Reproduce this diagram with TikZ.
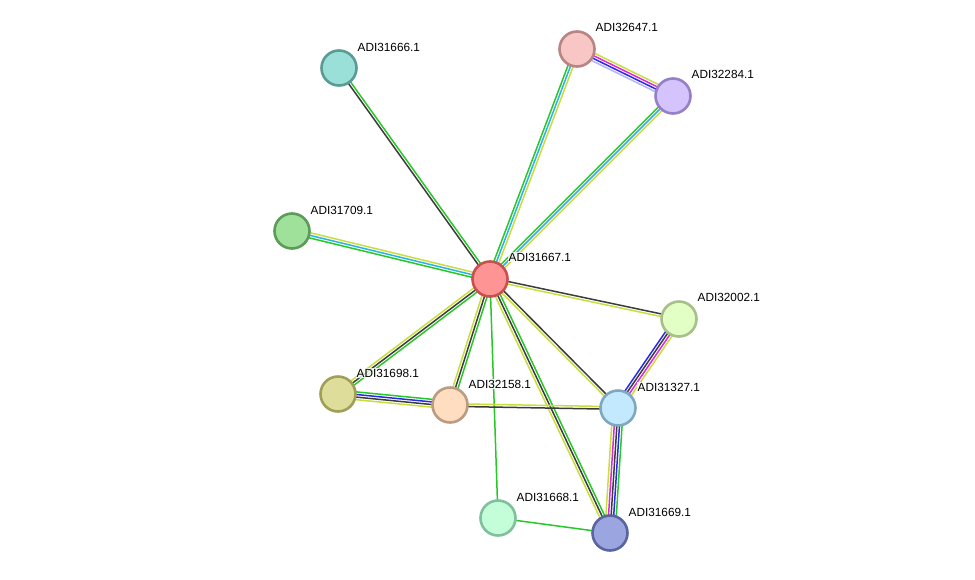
\documentclass[tikz,border=0pt]{standalone}
\usepackage{fontspec}
\setmainfont{Liberation Sans}
\usetikzlibrary{calc}
\pgfdeclarelayer{bg}\pgfsetlayers{bg,main}
\definecolor{eg}{RGB}{40,200,40}
\definecolor{ec}{RGB}{40,180,230}
\definecolor{ey}{RGB}{200,222,60}
\definecolor{ek}{RGB}{60,60,60}
\definecolor{em}{RGB}{220,40,220}
\definecolor{eb}{RGB}{40,40,240}
\definecolor{el}{RGB}{180,180,250}
\newcommand\medge[4]{%
  \foreach \col [count=\i] in {#4}{%
    \pgfmathsetmacro\off{(\i-1-(#3-1)/2)*2.6}%
    \draw[edge,\col] ($(#1.center)!\off pt!90:(#2.center)$) -- ($(#2.center)!\off pt!-90:(#1.center)$);%
  }%
}
\begin{document}
\begin{tikzpicture}[x=1pt,y=-1pt,
  prot/.style={circle,minimum size=35pt,inner sep=0pt,line width=2.6pt},
  lab/.style={anchor=west,font=\fontsize{11.8}{13}\selectfont,inner sep=1pt,fill=white,fill opacity=0.8,text opacity=1},
  edge/.style={line width=1.5pt}]
\useasboundingbox (0,0) rectangle (975,579);
% nodes
\node[prot,fill={rgb,255:red,255;green,148;blue,148},draw={rgb,255:red,200;green,80;blue,80}] (a) at (490,279) {};
\node[prot,fill={rgb,255:red,249;green,198;blue,198},draw={rgb,255:red,184;green,132;blue,132}] (b) at (577,49) {};
\node[prot,fill={rgb,255:red,212;green,195;blue,252},draw={rgb,255:red,149;green,128;blue,200}] (c) at (673,96) {};
\node[prot,fill={rgb,255:red,154;green,224;blue,216},draw={rgb,255:red,90;green,156;blue,148}] (d) at (339,68) {};
\node[prot,fill={rgb,255:red,159;green,224;blue,154},draw={rgb,255:red,92;green,156;blue,88}] (e) at (292,231) {};
\node[prot,fill={rgb,255:red,226;green,255;blue,198},draw={rgb,255:red,167;green,192;blue,136}] (f) at (679,319) {};
\node[prot,fill={rgb,255:red,222;green,221;blue,154},draw={rgb,255:red,160;green,159;blue,88}] (g) at (338,394) {};
\node[prot,fill={rgb,255:red,254;green,221;blue,193},draw={rgb,255:red,188;green,156;blue,128}] (h) at (450,405) {};
\node[prot,fill={rgb,255:red,195;green,233;blue,254},draw={rgb,255:red,127;green,168;blue,192}] (i) at (618,408) {};
\node[prot,fill={rgb,255:red,195;green,254;blue,217},draw={rgb,255:red,128;green,192;blue,156}] (j) at (498,518) {};
\node[prot,fill={rgb,255:red,155;green,165;blue,224},draw={rgb,255:red,90;green,100;blue,160}] (k) at (610,533) {};
% edges
\begin{pgfonlayer}{bg}
\medge{a}{d}{2}{eg,ek}
\medge{a}{b}{3}{ey,ec,eg}
\medge{a}{c}{3}{ey,ec,eg}
\medge{b}{c}{4}{el,eb,em,ey}
\medge{a}{e}{3}{ey,ec,eg}
\medge{a}{f}{2}{ey,ek}
\medge{a}{g}{3}{ey,ek,eg}
\medge{a}{h}{3}{ey,ek,eg}
\medge{a}{j}{1}{eg}
\medge{a}{i}{2}{ey,ek}
\medge{a}{k}{3}{ey,ek,eg}
\medge{g}{h}{4}{ey,ek,eb,eg}
\medge{h}{i}{2}{ek,ey}
\medge{f}{i}{4}{eb,ek,em,ey}
\medge{i}{k}{5}{ey,em,ek,eb,eg}
\medge{j}{k}{1}{eg}
\end{pgfonlayer}
% labels
\node[lab] (la) at ($(a)+(17.5,-22)$) {ADI31667.1};
\node[lab] (lb) at ($(b)+(17.5,-22)$) {ADI32647.1};
\node[lab] (lc) at ($(c)+(17.5,-22)$) {ADI32284.1};
\node[lab] (ld) at ($(d)+(17.5,-21)$) {ADI31666.1};
\node[lab] (le) at ($(e)+(17.5,-21)$) {ADI31709.1};
\node[lab] (lf) at ($(f)+(17.5,-22)$) {ADI32002.1};
\node[lab] (lg) at ($(g)+(17.5,-21)$) {ADI31698.1};
\node[lab] (lh) at ($(h)+(17.5,-21)$) {ADI32158.1};
\node[lab] (li) at ($(i)+(18.5,-21)$) {ADI31327.1};
\node[lab] (lj) at ($(j)+(17.5,-21)$) {ADI31668.1};
\node[lab] (lk) at ($(k)+(17.5,-21)$) {ADI31669.1};
\end{tikzpicture}
\end{document}
